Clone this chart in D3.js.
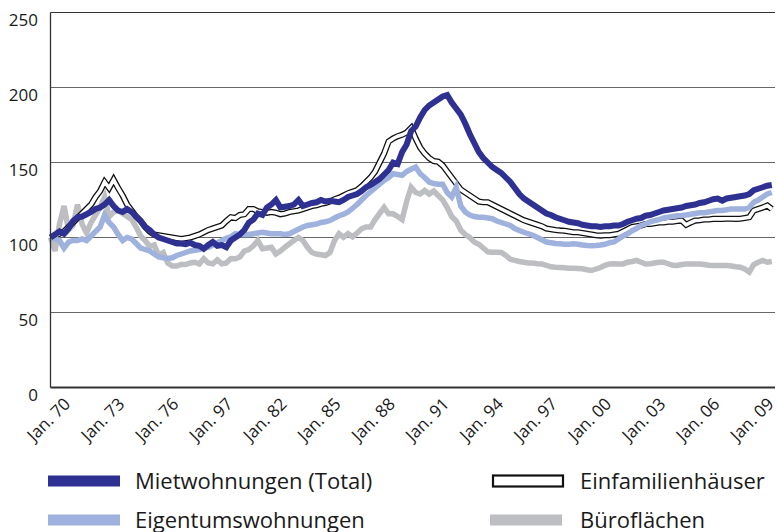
<!DOCTYPE html>
<html>
<head>
<meta charset="utf-8">
<script src="https://cdn.jsdelivr.net/npm/d3@7"></script>
<style>
  body { margin: 0; background: #fff; }
  text { font-family: "Open Sans", "Noto Sans", sans-serif; fill: #1a1a1a; }
</style>
</head>
<body>
<script>
// Quartalswerte 1970 Q1 .. 2010 Q1, Index Jan. 70 = 100
var tickLabels = ["Jan. 70","Jan. 73","Jan. 76","Jan. 97","Jan. 82","Jan. 85","Jan. 88",
                  "Jan. 91","Jan. 94","Jan. 97","Jan. 00","Jan. 03","Jan. 06","Jan. 09"];
var yTicks = [0, 50, 100, 150, 200, 250];

var miet = [100,102,104,102.5,106,111,113.5,114,115.5,117,119,120,122,125,121,118,
  117,119,117,114,111,107,105,102,100,99,98,97,96,96,95.5,96.5,
  95,94.5,92.5,95,97,94.5,95,93.5,98,100,102,105,110,112,116,115,
  120,122,125,120,120.5,121,122,125,121,122,123,123.5,125,124,124.5,124,
  123.5,125,127,128,129,131,133.5,135,137,139,142,145,150,149,157,162,
  171,174,180,185,188,190,192,194,195,190,186,182,176,169,163,157,
  153,150,147,145,143,140,137,133,129,126,124,122,120,118,116,115,
  113.5,112.5,111.5,110.5,110,109.5,108.5,108,107.5,107.5,107,107.5,107.5,108,108,109,
  110.5,111.5,112.5,113,114.5,115,116,117,118,118.5,119,119.5,120,121,121.5,122,
  123,123.5,124.5,125.5,126,124.5,126,126.5,127,127.5,128,129,131.5,132.5,133.5,134.5,135];

var eigentum = [100,99,98,93,97,98,98,99,98,101,104,107,115,110,107,102,
  98,100,99,96,93,92,91,89,87,86.5,86,86.5,88,89,90,91,
  91.5,92,93,93.5,95,96.5,98,99.5,100.5,102.5,102,102,102,102.5,103,103.5,
  103,102.5,102.5,102.5,102,102.5,104,105.5,107,108,108.5,109,110,110.5,111.3,113,
  114.5,115.5,117,119.5,122,125,128,130.5,133,135.5,138,140,142.5,142,141.5,144,
  145.5,147,142.5,140,137,136,135.5,135.5,130,127,133.5,121,117,115,114,113.5,
  113.5,113,112.5,111,110,109,108,106,104.7,103.5,102.5,101.5,100,98.5,97,96.5,
  96,95.8,95.5,95.5,95.8,95.5,95,94.7,94.5,94.7,95,95.5,96.5,97,99,101,
  102.5,104.5,106,108,109,110.5,111.3,112,113,113.5,114,114.5,114.7,115,115.5,116,
  116.5,116.5,117,117.5,118,118,118.5,119,119,119,119,120,123.5,125,127,129,130];

var efh = [100,101,102.5,104,107,110,113,116,119,122,127,131,137,133,138.5,133,
  128,122,118,114,111,107,104,102,101.5,101,100.5,100,99.5,99,99.5,100,
  101,102,103.5,105,106,107,108,111,113.5,113,115,115.5,119,119,117.5,117,
  116.5,117,116.5,115.5,116,117,117.5,118,119,120,121,121.5,122.5,123,124,125.5,
  126.5,128,129.5,130.5,131.5,134,137,140,144,150,156,164,166,167.5,168.5,170,
  173,166,160,156,153,151,150.5,148,144,140,136,132,130,128,126,124,
  123.5,123.5,122,120.5,119,117.5,116,114.5,113,111.5,110.5,109.5,108.5,107.5,106,105.5,
  105,104.7,104.5,104,103.5,103.5,103,102.5,102,101.5,101.3,101.5,101.5,102,102.5,104,
  105.5,107,107.5,108,109,109,109.5,110,110,110.5,110.5,111,111.3,108.5,110,111.3,
  111.5,112,112,112.4,112.4,112.4,112.5,112.5,112.4,112.5,113,113.5,118,119,120,121.3,119];

var buero = [100,91,109,121,105,108,122,109,103,110,115,120,127,114,117,118,
  116,114,112,107,101,98,94,95,88,90,83,81,81,82,82,83,
  83.5,82.4,85.8,83,82.4,85,82.4,83,86,85.8,87,91,92,94.5,98,92.5,
  93,93.5,89,91,93.5,95.8,98,100,98,93.5,90,89,88.5,88,90,98,
  102.5,100.2,102.5,100.5,103,105.8,107,107,112,116,120,115.8,115.8,114,112,124,
  133.5,130,129,131.3,129,131,128,125,120,114,111,105,102,100,97,95.5,
  93,90.5,90.2,90.2,90,88,85.5,84.7,84,83.5,83,83,82.5,82.4,81.5,80.5,
  80.2,80,79.8,79.5,79.5,79.3,79.1,78.5,78,79,80,81.5,82.4,82.5,82.4,82.4,
  83.5,84,84.7,83.5,82.4,82.5,83,83.5,83.5,82.5,81.5,81.3,82,82.4,82.4,82.4,
  82.4,82,81.5,81.3,81.3,81.3,81.3,81,80.5,80.2,79,77,82,83.5,84.7,83.5,84];

var seriesNames = ["Mietwohnungen (Total)", "Einfamilienhäuser", "Eigentumswohnungen", "Büroflächen"];

var w = 778, h = 532;
var x0 = 50.5, x1 = 775, yTop = 12.5, yBot = 387.5;

var svg = d3.select("body").append("svg")
  .attr("width", w).attr("height", h);

var x = d3.scaleLinear().domain([0, 161]).range([x0, 776.3]);
var y = d3.scaleLinear().domain([0, 250]).range([yBot, yTop]);

// Gitterlinien
svg.append("g").selectAll("line")
  .data(yTicks.filter(function(d) { return d > 0; }))
  .enter().append("line")
  .attr("x1", x0).attr("x2", x1)
  .attr("y1", function(d) { return y(d); })
  .attr("y2", function(d) { return y(d); })
  .attr("stroke", function(d) { return d == 250 ? "#333" : "#666"; })
  .attr("stroke-width", 1);

// y-Beschriftung
svg.append("g").selectAll("text")
  .data(yTicks)
  .enter().append("text")
  .attr("x", 38)
  .attr("y", function(d) { return y(d) + 13; })
  .attr("text-anchor", "end")
  .style("font-size", "17px")
  .text(function(d) { return d; });

var line = d3.line()
  .x(function(d, i) { return x(i); })
  .y(function(d) { return y(d); });

var g = svg.append("g");

g.append("path").datum(buero)
  .attr("d", line).attr("fill", "none")
  .attr("stroke", "#bdbec1").attr("stroke-width", 5.5);

g.append("path").datum(efh)
  .attr("d", line).attr("fill", "none")
  .attr("stroke", "#111").attr("stroke-width", 6.2);
g.append("path").datum(efh)
  .attr("d", line).attr("fill", "none")
  .attr("stroke", "#fff").attr("stroke-width", 3.6);

g.append("path").datum(eigentum)
  .attr("d", line).attr("fill", "none")
  .attr("stroke", "#9fb2dd").attr("stroke-width", 5.5);

g.append("path").datum(miet)
  .attr("d", line).attr("fill", "none")
  .attr("stroke", "#2e3192").attr("stroke-width", 6);

// Achsen
svg.append("line").attr("x1", x0).attr("x2", x0).attr("y1", yTop).attr("y2", yBot)
  .attr("stroke", "#333").attr("stroke-width", 1.3);
svg.append("line").attr("x1", x0).attr("x2", x1).attr("y1", yBot).attr("y2", yBot)
  .attr("stroke", "#333").attr("stroke-width", 2);

// x-Beschriftung
svg.append("g").selectAll("text")
  .data(tickLabels)
  .enter().append("text")
  .attr("transform", function(d, i) {
    return "translate(" + (x(i * 12) + 21) + ",405) rotate(-45)";
  })
  .attr("text-anchor", "end")
  .style("font-size", "17px")
  .text(function(d) { return d; });

// Legende
var legend = [
  {name: seriesNames[0], col: 0, row: 0, color: "#2e3192"},
  {name: seriesNames[1], col: 1, row: 0, color: "efh"},
  {name: seriesNames[2], col: 0, row: 1, color: "#9fb2dd"},
  {name: seriesNames[3], col: 1, row: 1, color: "#bdbec1"}
];
var lg = svg.append("g").selectAll("g").data(legend).enter().append("g")
  .attr("transform", function(d) {
    return "translate(" + (d.col ? 490 : 48) + "," + (d.row ? 520 : 481) + ")";
  });
lg.append("rect")
  .attr("x", function(d) { return d.color == "efh" ? 3 : 0; })
  .attr("y", -5.5)
  .attr("width", function(d) { return d.color == "efh" ? 70 : 72; })
  .attr("height", 11)
  .attr("fill", function(d) { return d.color == "efh" ? "#fff" : d.color; })
  .attr("stroke", function(d) { return d.color == "efh" ? "#111" : "none"; })
  .attr("stroke-width", 2.2);
lg.append("text")
  .attr("x", function(d) { return d.col ? 90 : 87; })
  .attr("y", 8)
  .style("font-size", "22px")
  .text(function(d) { return d.name; });
</script>
</body>
</html>
